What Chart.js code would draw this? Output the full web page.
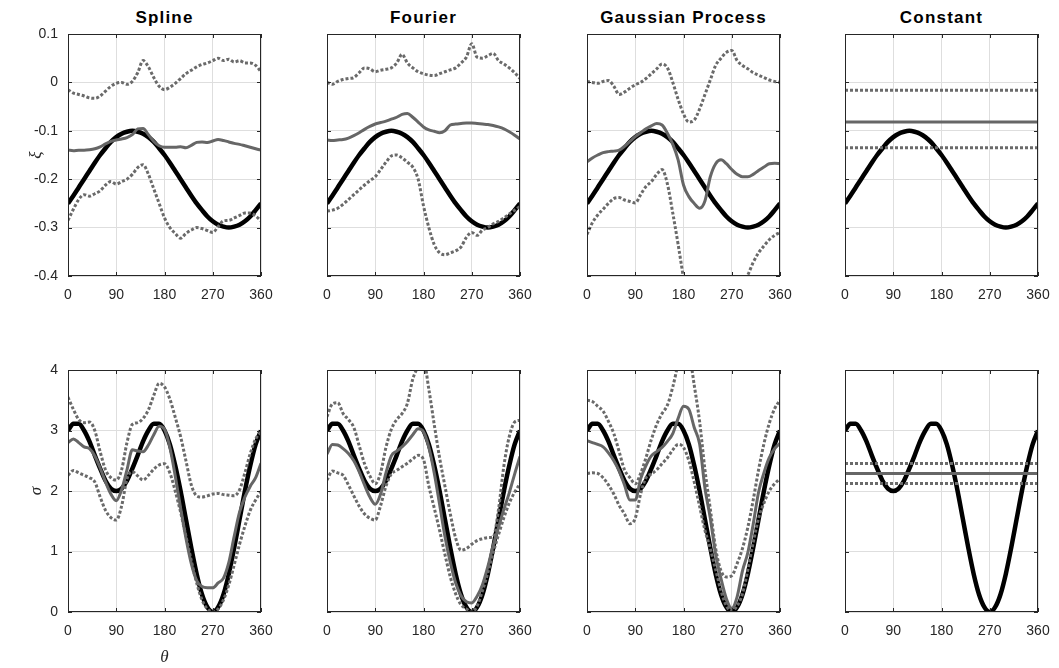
<!DOCTYPE html>
<html>
<head>
<meta charset="utf-8">
<script src="https://cdn.jsdelivr.net/npm/chart.js@4.4.0/dist/chart.umd.min.js"></script>
<style>
  body { margin: 0; background: #fff; width: 1059px; height: 668px; overflow: hidden; position: relative; }
  canvas { position: absolute; }
  .ptitle { position: absolute; top: 8px; width: 193px; line-height: 20px; text-align: center;
            font-family: "Liberation Sans", Arial, sans-serif; font-weight: bold; font-size: 17px;
            letter-spacing: 1.2px; color: #000; }
</style>
</head>
<body>
<script>
// angle samples (degrees)
const theta = [0,10,20,30,40,50,60,70,80,90,100,110,120,130,140,150,160,170,180,
               190,200,210,220,230,240,250,260,270,280,290,300,310,320,330,340,350,360];
const constTheta = [0, 360];

const methods = ['Spline', 'Fourier', 'Gaussian Process', 'Constant'];
const xTicks = [0, 90, 180, 270, 360];
const xiTicks = [0.1, 0, -0.1, -0.2, -0.3, -0.4];
const sigmaTicks = [0, 1, 2, 3, 4];

// true curves
const xiTrue = [-0.250,-0.234,-0.217,-0.200,-0.183,-0.166,-0.150,-0.136,-0.123,-0.113,
                -0.106,-0.102,-0.100,-0.102,-0.106,-0.113,-0.123,-0.136,-0.150,-0.166,
                -0.183,-0.200,-0.217,-0.234,-0.250,-0.264,-0.277,-0.287,-0.294,-0.298,
                -0.300,-0.298,-0.294,-0.287,-0.277,-0.264,-0.250];
const sigmaTrue = [3.00,3.11,3.11,3.00,2.82,2.59,2.37,2.17,2.04,2.00,
                   2.04,2.17,2.37,2.59,2.82,3.00,3.11,3.11,3.00,2.77,
                   2.42,2.00,1.53,1.06,0.63,0.29,0.08,0.00,0.08,0.29,
                   0.63,1.06,1.53,2.00,2.42,2.77,3.00];

// xi estimates
const xiSplineMean = [-0.140,-0.141,-0.140,-0.140,-0.139,-0.137,-0.133,-0.127,-0.122,-0.119,
                      -0.117,-0.114,-0.108,-0.096,-0.095,-0.108,-0.122,-0.131,-0.134,-0.134,
                      -0.134,-0.133,-0.135,-0.130,-0.124,-0.123,-0.124,-0.121,-0.118,-0.120,
                      -0.123,-0.126,-0.128,-0.131,-0.134,-0.137,-0.140];
const xiSplineUpper = [-0.015,-0.022,-0.025,-0.028,-0.032,-0.033,-0.028,-0.018,-0.008,-0.002,
                       0.000,-0.004,0.002,0.020,0.045,0.032,0.010,-0.008,-0.015,-0.010,
                       -0.002,0.008,0.018,0.025,0.032,0.037,0.040,0.045,0.050,0.045,
                       0.048,0.042,0.045,0.040,0.040,0.035,0.022];
const xiSplineLower = [-0.285,-0.262,-0.242,-0.232,-0.235,-0.230,-0.224,-0.212,-0.205,-0.210,
                       -0.205,-0.200,-0.190,-0.176,-0.170,-0.190,-0.220,-0.250,-0.280,-0.300,
                       -0.312,-0.322,-0.312,-0.305,-0.300,-0.302,-0.306,-0.310,-0.298,-0.286,
                       -0.285,-0.280,-0.275,-0.270,-0.270,-0.276,-0.286];

const xiFourierMean = [-0.119,-0.120,-0.119,-0.118,-0.115,-0.110,-0.104,-0.097,-0.091,-0.086,
                       -0.083,-0.080,-0.076,-0.072,-0.066,-0.064,-0.072,-0.082,-0.092,-0.098,
                       -0.101,-0.104,-0.100,-0.088,-0.086,-0.085,-0.084,-0.084,-0.085,-0.086,
                       -0.087,-0.089,-0.092,-0.096,-0.102,-0.109,-0.117];
const xiFourierUpper = [0.000,-0.004,0.002,0.006,0.008,0.010,0.020,0.030,0.028,0.022,
                        0.025,0.027,0.030,0.040,0.058,0.040,0.030,0.022,0.018,0.015,
                        0.014,0.018,0.022,0.026,0.030,0.040,0.052,0.080,0.052,0.050,
                        0.055,0.060,0.045,0.038,0.030,0.020,0.008];
const xiFourierLower = [-0.266,-0.264,-0.260,-0.252,-0.242,-0.232,-0.222,-0.212,-0.203,-0.195,
                        -0.180,-0.165,-0.152,-0.150,-0.156,-0.165,-0.175,-0.200,-0.255,-0.300,
                        -0.335,-0.352,-0.356,-0.352,-0.348,-0.340,-0.320,-0.310,-0.316,-0.305,
                        -0.300,-0.292,-0.287,-0.280,-0.272,-0.264,-0.256];

const xiGPMean = [-0.164,-0.156,-0.150,-0.145,-0.143,-0.142,-0.140,-0.132,-0.122,-0.112,
                  -0.104,-0.096,-0.090,-0.085,-0.088,-0.105,-0.128,-0.160,-0.212,-0.236,
                  -0.250,-0.260,-0.245,-0.195,-0.168,-0.160,-0.168,-0.180,-0.190,-0.195,
                  -0.195,-0.190,-0.182,-0.175,-0.168,-0.167,-0.168];
const xiGPUpper = [0.002,0.000,-0.002,0.002,0.004,-0.008,-0.025,-0.020,-0.012,-0.005,
                   0.000,0.008,0.018,0.028,0.038,0.030,0.000,-0.035,-0.065,-0.082,
                   -0.078,-0.055,-0.025,0.005,0.035,0.050,0.062,0.066,0.045,0.035,
                   0.028,0.020,0.015,0.010,0.005,0.002,0.000];
const xiGPLower = [-0.314,-0.290,-0.274,-0.262,-0.250,-0.240,-0.238,-0.243,-0.246,-0.249,
                   -0.232,-0.215,-0.205,-0.190,-0.180,-0.210,-0.270,-0.335,-0.405,-0.480,
                   -0.550,-0.600,-0.620,-0.620,-0.600,-0.570,-0.530,-0.490,-0.450,-0.420,
                   -0.398,-0.372,-0.352,-0.338,-0.325,-0.316,-0.310];

const xiConstMean = [-0.082, -0.082];
const xiConstUpper = [-0.016, -0.016];
const xiConstLower = [-0.135, -0.135];

// sigma estimates
const sigmaSplineMean = [2.80,2.86,2.80,2.73,2.70,2.58,2.38,2.15,1.95,1.84,
                         2.02,2.35,2.68,2.66,2.65,2.76,2.93,3.07,3.02,2.72,
                         2.25,1.72,1.22,0.80,0.52,0.42,0.40,0.40,0.48,0.56,
                         0.82,1.25,1.65,1.90,2.08,2.22,2.46];
const sigmaSplineUpper = [3.55,3.35,3.18,3.13,3.14,3.00,2.65,2.35,2.22,2.18,
                          2.35,2.80,3.10,3.13,3.20,3.34,3.58,3.78,3.72,3.52,
                          3.22,2.90,2.50,2.10,1.92,1.90,1.92,1.95,1.96,1.94,
                          1.93,1.92,2.02,2.30,2.62,2.86,2.98];
const sigmaSplineLower = [2.26,2.34,2.30,2.26,2.22,2.15,1.90,1.68,1.56,1.52,
                          1.75,2.20,2.32,2.25,2.18,2.26,2.36,2.43,2.45,2.30,
                          2.00,1.65,1.25,0.85,0.48,0.20,0.05,0.00,0.05,0.20,
                          0.45,0.78,1.12,1.42,1.68,1.85,1.99];

const sigmaFourierMean = [2.61,2.77,2.76,2.70,2.62,2.50,2.32,2.10,1.90,1.78,
                          1.95,2.30,2.58,2.66,2.73,2.82,2.93,3.03,2.98,2.72,
                          2.30,1.78,1.25,0.82,0.48,0.27,0.17,0.15,0.26,0.45,
                          0.75,1.10,1.40,1.70,1.97,2.28,2.57];
const sigmaFourierUpper = [3.23,3.44,3.46,3.28,3.18,3.05,2.75,2.45,2.25,2.12,
                           2.30,2.72,3.02,3.18,3.28,3.45,3.85,4.05,4.15,3.68,
                           3.10,2.55,2.08,1.62,1.22,1.02,1.05,1.12,1.18,1.21,
                           1.23,1.24,1.70,2.42,2.90,3.14,3.17];
const sigmaFourierLower = [2.18,2.33,2.30,2.26,2.10,1.92,1.75,1.62,1.55,1.52,
                           1.76,2.08,2.28,2.34,2.40,2.46,2.53,2.59,2.52,2.08,
                           1.72,1.35,0.95,0.58,0.30,0.12,0.05,0.00,0.10,0.35,
                           0.65,0.98,1.28,1.56,1.80,1.98,2.12];

const sigmaGPMean = [2.83,2.80,2.77,2.73,2.63,2.50,2.33,2.10,1.85,1.85,
                     2.20,2.42,2.58,2.65,2.72,2.82,2.95,3.20,3.40,3.35,
                     3.05,2.78,2.05,1.55,0.95,0.55,0.22,0.06,0.25,0.68,
                     0.98,1.45,1.98,2.30,2.55,2.70,2.79];
const sigmaGPUpper = [3.50,3.48,3.40,3.32,3.15,2.95,2.65,2.35,2.22,2.12,
                      2.29,2.55,2.85,3.10,3.28,3.42,3.72,4.10,4.40,4.30,
                      3.75,3.15,2.35,1.70,1.05,0.68,0.58,0.60,0.80,1.05,
                      1.40,1.85,2.35,2.78,3.12,3.36,3.50];
const sigmaGPLower = [2.29,2.30,2.29,2.22,2.10,1.95,1.76,1.62,1.46,1.55,
                      1.95,2.22,2.28,2.35,2.45,2.55,2.68,2.77,2.72,2.50,
                      2.15,1.75,1.35,1.05,0.70,0.35,0.10,0.02,0.10,0.30,
                      0.70,1.15,1.55,1.80,2.00,2.12,2.20];

const sigmaConstMean = [2.29, 2.29];
const sigmaConstUpper = [2.455, 2.455];
const sigmaConstLower = [2.124, 2.124];

// layout of the 2x4 grid (page pixels)
const plotLefts = [68, 327, 587, 845];
const plotTops = [34, 370];
const plotW = 193, plotH = 242;
const padL = 68, padT = 34, padR = 40;
const xAxisH = [46, 58];

const textColor = '#262626';
const tickSize = 14;
Chart.defaults.font.family = 'Liberation Sans, Arial, sans-serif';
Chart.defaults.font.size = tickSize;
Chart.defaults.color = textColor;

// box round the axes with inward tick marks, drawn over the lines
const boxPlugin = {
    id: 'box',
    afterDatasetsDraw(chart) {
        const { ctx, chartArea: a, scales: { x, y } } = chart;
        ctx.save();
        ctx.strokeStyle = textColor;
        ctx.lineWidth = 1;
        ctx.beginPath();
        x.ticks.forEach((t) => {
            const px = Math.round(x.getPixelForValue(t.value)) + 0.5;
            ctx.moveTo(px, a.bottom); ctx.lineTo(px, a.bottom - 4);
            ctx.moveTo(px, a.top); ctx.lineTo(px, a.top + 4);
        });
        y.ticks.forEach((t) => {
            const py = Math.round(y.getPixelForValue(t.value)) + 0.5;
            ctx.moveTo(a.left, py); ctx.lineTo(a.left + 4, py);
            ctx.moveTo(a.right, py); ctx.lineTo(a.right - 4, py);
        });
        ctx.stroke();
        ctx.strokeRect(a.left + 0.5, a.top + 0.5, a.right - a.left - 1, a.bottom - a.top - 1);
        ctx.restore();
    }
};

function toPoints(xs, ys) {
    return xs.map((t, i) => ({ x: t, y: ys[i] }));
}

function createPanel(row, col, truth, xs, mean, upper, lower) {
    const canvas = document.createElement('canvas');
    const w = padL + plotW + padR;
    const h = padT + plotH + xAxisH[row];
    canvas.width = w;
    canvas.height = h;
    canvas.style.left = (plotLefts[col] - padL) + 'px';
    canvas.style.top = (plotTops[row] - padT) + 'px';
    document.body.appendChild(canvas);

    const yTicks = row === 0 ? xiTicks : sigmaTicks;
    const dotted = { borderColor: '#6a6a6a', borderWidth: 3, borderDash: [3, 2], pointRadius: 0,
                     fill: false, cubicInterpolationMode: 'monotone', clip: 0 };

    new Chart(canvas.getContext('2d'), {
        type: 'line',
        data: {
            datasets: [
                Object.assign({ data: toPoints(xs, upper) }, dotted),
                Object.assign({ data: toPoints(xs, lower) }, dotted),
                {
                    data: toPoints(xs, mean),
                    borderColor: '#666666',
                    borderWidth: 3,
                    pointRadius: 0,
                    fill: false,
                    cubicInterpolationMode: 'monotone',
                    clip: 0
                },
                {
                    data: toPoints(theta, truth),
                    borderColor: '#000000',
                    borderWidth: 4.5,
                    pointRadius: 0,
                    fill: false,
                    cubicInterpolationMode: 'monotone'
                }
            ]
        },
        options: {
            responsive: false,
            maintainAspectRatio: false,
            animation: false,
            events: [],
            layout: { padding: { left: 0, top: padT, right: padR, bottom: 0 } },
            plugins: { legend: { display: false }, tooltip: { enabled: false } },
            scales: {
                x: {
                    type: 'linear',
                    min: 0,
                    max: 360,
                    afterBuildTicks: (s) => { s.ticks = xTicks.map((v) => ({ value: v })); },
                    afterFit: (s) => { s.height = xAxisH[row]; },
                    grid: { color: '#dedede', drawTicks: false },
                    border: { display: false },
                    ticks: {
                        color: textColor,
                        font: { size: tickSize },
                        padding: 11,
                        maxRotation: 0,
                        autoSkip: false,
                        callback: (v) => String(v)
                    },
                    title: {
                        display: row === 1 && col === 0,
                        text: 'θ',
                        color: textColor,
                        font: { family: 'Liberation Serif, serif', size: 17, style: 'italic' },
                        padding: { top: 0, bottom: 2 }
                    }
                },
                y: {
                    type: 'linear',
                    min: Math.min(...yTicks),
                    max: Math.max(...yTicks),
                    afterBuildTicks: (s) => { s.ticks = yTicks.map((v) => ({ value: v })); },
                    afterFit: (s) => { s.width = padL; },
                    grid: { color: '#dedede', drawTicks: false },
                    border: { display: false },
                    ticks: {
                        display: col === 0,
                        color: textColor,
                        font: { size: tickSize },
                        padding: 10,
                        callback: (v) => String(v)
                    },
                    title: {
                        display: col === 0,
                        text: row === 0 ? 'ξ' : 'σ',
                        color: textColor,
                        font: { family: 'Liberation Serif, serif', size: 17, style: 'italic' },
                        padding: { top: 26, bottom: 0 }
                    }
                }
            }
        },
        plugins: [boxPlugin]
    });
}

// titles over the top row
methods.forEach((m, col) => {
    const div = document.createElement('div');
    div.className = 'ptitle';
    div.style.left = plotLefts[col] + 'px';
    div.textContent = m;
    document.body.appendChild(div);
});

createPanel(0, 0, xiTrue, theta, xiSplineMean, xiSplineUpper, xiSplineLower);
createPanel(0, 1, xiTrue, theta, xiFourierMean, xiFourierUpper, xiFourierLower);
createPanel(0, 2, xiTrue, theta, xiGPMean, xiGPUpper, xiGPLower);
createPanel(0, 3, xiTrue, constTheta, xiConstMean, xiConstUpper, xiConstLower);
createPanel(1, 0, sigmaTrue, theta, sigmaSplineMean, sigmaSplineUpper, sigmaSplineLower);
createPanel(1, 1, sigmaTrue, theta, sigmaFourierMean, sigmaFourierUpper, sigmaFourierLower);
createPanel(1, 2, sigmaTrue, theta, sigmaGPMean, sigmaGPUpper, sigmaGPLower);
createPanel(1, 3, sigmaTrue, constTheta, sigmaConstMean, sigmaConstUpper, sigmaConstLower);
</script>
</body>
</html>
